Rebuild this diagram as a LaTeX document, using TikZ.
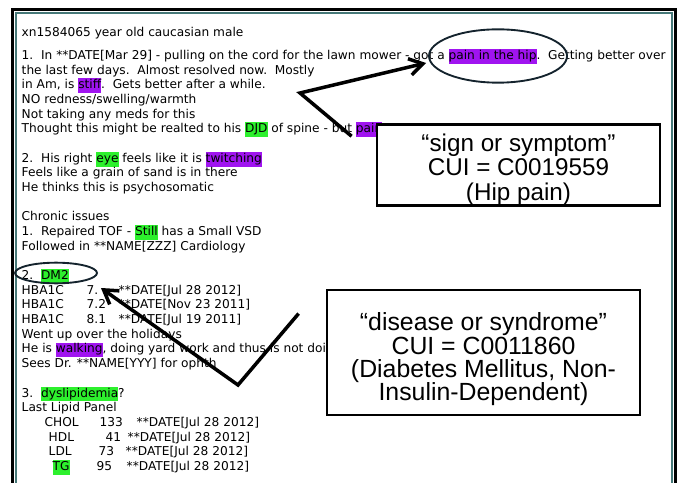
\documentclass[tikz,border=0pt]{standalone}
\usepackage{fontspec}
\setmainfont{Liberation Sans}
\newfontfamily\notefont{DejaVu Sans}
\usetikzlibrary{shapes,arrows.meta}
\usetikzlibrary{positioning}
\definecolor{hlgreen}{RGB}{45,240,45}
\definecolor{hlpurple}{RGB}{160,20,240}
\definecolor{frameteal}{RGB}{70,120,120}
\definecolor{ringcol}{RGB}{20,35,45}
\newdimen\pxu \pxu=0.03cm
\newcommand{\hlg}[1]{{\fboxsep=0pt\colorbox{hlgreen}{\strut #1}}}
\newcommand{\hlp}[1]{{\fboxsep=0pt\colorbox{hlpurple}{\strut #1}}}
\newcommand{\tabto}[2]{\rlap{\hspace*{#1\pxu}#2}}
\tikzset{auto, >={Straight Barb[length=4mm,width=5mm]}, inner sep=0pt}
\tikzstyle{note} = [anchor=north west, align=left, font={\notefont\fontsize{10.4pt}{12.53pt}\selectfont}]
\tikzstyle{callout} = [draw, line width=2.4pt, fill=white, rectangle, text centered, align=center]
\tikzstyle{ring} = [draw=ringcol, line width=1.6pt, ellipse]
\tikzstyle{pointer} = [->, line width=3pt]

\begin{document}
\begin{tikzpicture}[x=0.03cm, y=-0.03cm]
	\useasboundingbox (0,0) rectangle (678,483);
	% window frame
	\draw [frameteal, line width=1.4pt] (16,483) |- (672,13) -- (672,483);
	\draw [line width=2pt] (12.5,483) |- (675.5,9.5) -- (675.5,483);

	\node [note] (record) at (21.5,25.5) {\strut xn1584065 year old caucasian male\\[7.4pt]
		1.\ \ In **DATE[Mar 29] - pulling on the cord for the lawn mower - got a \hlp{pain in the hip}.\ \ Getting better over\\
		the last few days.\ \ Almost resolved now.\ \ Mostly\\
		in Am, is \hlp{stiff}.\ \ Gets better after a while.\\
		NO redness/swelling/warmth\\
		Not taking any meds for this\\
		Thought this might be realted to his \hlg{DJD} of spine - but \hlp{pain}\\[12.53pt]
		2.\ \ His right \hlg{eye} feels like it is \hlp{twitching}\\
		Feels like a grain of sand is in there\\
		He thinks this is psychosomatic\\[12.53pt]
		Chronic issues\\
		1.\ \ Repaired TOF - \hlg{Still} has a Small VSD\\
		Followed in **NAME[ZZZ] Cardiology\\[12.53pt]
		2.\ \ \hlg{DM2}\\
		\tabto{0}{HBA1C}\tabto{65}{7.\phantom{0}}\hspace*{97\pxu}**DATE[Jul 28 2012]\\
		\tabto{0}{HBA1C}\tabto{65}{7.2}\hspace*{97\pxu}**DATE[Nov 23 2011]\\
		\tabto{0}{HBA1C}\tabto{65}{8.1}\hspace*{97\pxu}**DATE[Jul 19 2011]\\
		Went up over the holidays\\
		He is \hlp{walking}, doing yard work and thus is not doing\\
		Sees Dr. **NAME[YYY] for ophth\\[12.53pt]
		3.\ \ \hlg{dyslipidemia}?\\
		Last Lipid Panel\\
		\tabto{23}{CHOL}\tabto{78}{133}\hspace*{115\pxu}**DATE[Jul 28 2012]\\
		\tabto{27}{HDL}\tabto{84}{41}\hspace*{106\pxu}**DATE[Jul 28 2012]\\
		\tabto{27}{LDL}\tabto{77}{73}\hspace*{104\pxu}**DATE[Jul 28 2012]\\
		\tabto{31}{\hlg{TG}}\tabto{75}{95}\hspace*{105\pxu}**DATE[Jul 28 2012]};

	\node [ring, minimum width=4.14cm, minimum height=1.6cm] (hip) at (498,56) {};
	\node [ring, minimum width=2.46cm, minimum height=0.62cm] (dm) at (56,273) {};

	\node [callout, minimum width=8.49cm, minimum height=2.4cm, font=\fontsize{20.7pt}{20.8pt}\selectfont] (symptom) at (518.5,165) {\rule{0pt}{23pt}``sign or symptom''\\CUI = C0019559\\(Hip pain)};
	\node [callout, minimum width=9.39cm, minimum height=3.75cm, font=\fontsize{21.2pt}{19.8pt}\selectfont] (disease) at (483.5,352.5) {\rule{0pt}{27pt}``disease or syndrome''\\CUI = C0011860\\(Diabetes Mellitus, Non-\\Insulin-Dependent)};

	\coordinate (hiptip) at ([shift={(-2,7)}]hip.west);
	\coordinate (dmtip) at ([shift={(3,15)}]dm.east);
	\coordinate (tail1) at ([shift={(-24,13)}]symptom.north west);
	\coordinate (tail2) at ([shift={(-27,25)}]disease.north west);
	\draw [pointer] (tail1) -- (300,93) -- (hiptip);
	\draw [pointer] (tail2) -- (238,385) -- (dmtip);
\end{tikzpicture}
\end{document}
